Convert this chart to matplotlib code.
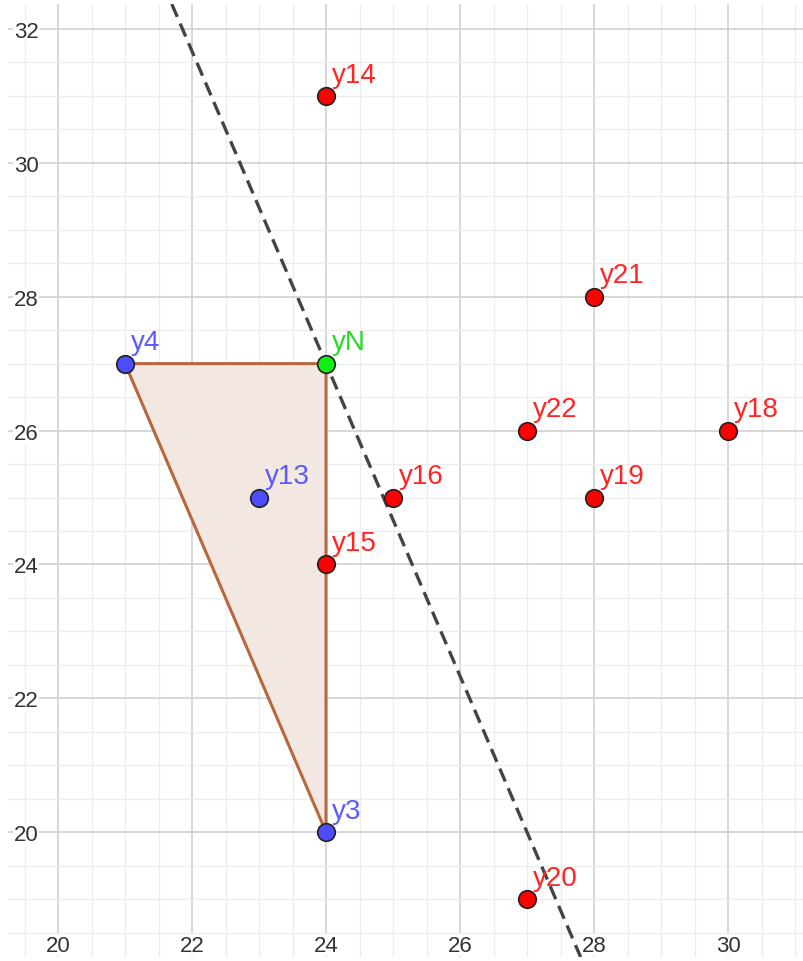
"""GeoGebra-style sketch: triangle y4-yN-y3, labelled points and a dashed line through yN."""

import matplotlib.pyplot as plt
from matplotlib.ticker import MultipleLocator

plt.rcParams["font.family"] = ["Liberation Sans", "DejaVu Sans"]

# points (name, x, y) grouped by colour
blue_names = ["y4", "y13", "y3"]
blue_x = [21, 23, 24]
blue_y = [27, 25, 20]

green_names = ["yN"]
green_x = [24]
green_y = [27]

red_names = ["y14", "y21", "y22", "y18", "y16", "y19", "y15", "y20"]
red_x = [24, 28, 27, 30, 25, 28, 24, 27]
red_y = [31, 28, 26, 26, 25, 25, 24, 19]

# triangle vertices
tri_x = [21, 24, 24]
tri_y = [27, 27, 20]

# dashed line: through yN with slope -7/3
line_point = (24, 27)
line_slope = -7 / 3

x_ticks = [20, 22, 24, 26, 28, 30]
y_ticks = [20, 22, 24, 26, 28, 30, 32]

fig = plt.figure(figsize=(8.04, 9.62), dpi=100)
ax = fig.add_axes([8 / 804, 4 / 962, 796 / 804, 953 / 962])
ax.set_xlim(19.253, 31.134)
ax.set_ylim(18.135, 32.373)

ax.xaxis.set_major_locator(MultipleLocator(2))
ax.yaxis.set_major_locator(MultipleLocator(2))
ax.xaxis.set_minor_locator(MultipleLocator(0.5))
ax.yaxis.set_minor_locator(MultipleLocator(0.5))
ax.grid(True, which="minor", color="#ededed", linewidth=0.9, zorder=0)
ax.grid(True, which="major", color="#d4d4d4", linewidth=1.3, zorder=0)
ax.set_axisbelow(True)
ax.set_xticks(x_ticks)
ax.set_yticks(y_ticks)
for s in ax.spines.values():
    s.set_visible(False)

ax.tick_params(axis="both", which="both", length=0, labelsize=16, labelcolor="#333333")
ax.tick_params(axis="y", pad=-22)
ax.tick_params(axis="x", pad=-16)
for lab in ax.get_xticklabels() + ax.get_yticklabels():
    lab.set_bbox(dict(facecolor="white", edgecolor="none", pad=0.3))

# triangle
ax.fill(tri_x, tri_y, facecolor="#f3e7e1", edgecolor="none", zorder=1)
ax.plot(tri_x + tri_x[:1], tri_y + tri_y[:1], color="#b5673e", linewidth=2.2,
        solid_joinstyle="round", zorder=2)

# dashed line
ax.axline(line_point, slope=line_slope, color="#444444", linewidth=2.4,
          linestyle=(0, (4.2, 2.2)), zorder=3)

groups = [
    (blue_names, blue_x, blue_y, "#4d4dff", "#5a5aff"),
    (green_names, green_x, green_y, "#11ee11", "#22dd22"),
    (red_names, red_x, red_y, "#ff0000", "#ff2525"),
]
for names, xs, ys, fc, tc in groups:
    ax.scatter(xs, ys, s=160, facecolor=fc, edgecolor="#222222", linewidth=1.2, zorder=5)
    for n, x, y in zip(names, xs, ys):
        ax.annotate(n, (x, y), xytext=(4, 6), textcoords="offset points",
                    ha="left", va="bottom", fontsize=20, color=tc, zorder=6)

fig.savefig("out.png", dpi=100)
